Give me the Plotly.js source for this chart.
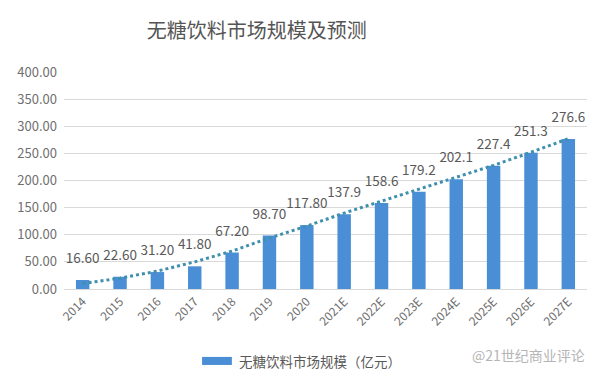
<!DOCTYPE html>
<html>
<head>
<meta charset="utf-8">
<script src="https://cdn.plot.ly/plotly-3.0.1.min.js"></script>
<style>html,body{margin:0;padding:0;background:#fff;}#chart{width:600px;height:383px;}</style>
</head>
<body>
<div id="chart"></div>
<script>
const categories = ["2014","2015","2016","2017","2018","2019","2020","2021E","2022E","2023E","2024E","2025E","2026E","2027E"];
const marketSize = [16.6,22.6,31.2,41.8,67.2,98.7,117.8,137.9,158.6,179.2,202.1,227.4,251.3,276.6];
const valueLabels = ["16.60","22.60","31.20","41.80","67.20","98.70","117.80","137.9","158.6","179.2","202.1","227.4","251.3","276.6"];
const trendValues = [10,20,33,50,70,94,116,140,162,184,205,228,252,277];
const yTicks = [0,50,100,150,200,250,300,350,400];
const seriesName = "无糖饮料市场规模（亿元）";
const chartTitle = "无糖饮料市场规模及预测";
const watermark = "@21世纪商业评论";

const font = "'Noto Sans CJK SC', 'Noto Sans', sans-serif";
const grey = "#595959";
const tickGrey = "#6f6f6f";

const traces = [
  {
    type: "bar",
    x: categories,
    y: marketSize,
    marker: {color: "#4a8fd5"},
    width: 0.36,
    name: seriesName,
    showlegend: false,
    hoverinfo: "x+y"
  },
  {
    type: "scatter",
    mode: "lines",
    x: categories,
    y: trendValues,
    line: {color: "#3f8fae", width: 3, dash: "dot"},
    showlegend: false,
    hoverinfo: "skip"
  },
  {
    type: "scatter",
    mode: "markers+text",
    x: categories,
    y: marketSize,
    text: valueLabels,
    textposition: "top center",
    textfont: {family: font, size: 13.5, color: grey},
    marker: {size: 20, opacity: 0},
    cliponaxis: false,
    showlegend: false,
    hoverinfo: "skip"
  }
];

const layout = {
  width: 600,
  height: 383,
  margin: {l: 64, r: 13, t: 72, b: 94},
  paper_bgcolor: "#fff",
  plot_bgcolor: "#fff",
  font: {family: font, color: grey},
  title: {
    text: chartTitle,
    font: {family: font, size: 20, color: "#555555"},
    x: 0.428, xref: "container", xanchor: "center",
    y: 0.92, yref: "container", yanchor: "middle"
  },
  xaxis: {
    type: "category",
    tickangle: -45,
    tickfont: {family: font, size: 12, color: tickGrey},
    showgrid: false,
    showline: true,
    linecolor: "#d9d9d9",
    linewidth: 1,
    ticks: "",
    range: [-0.5, 13.5]
  },
  yaxis: {
    range: [0, 400],
    tickvals: yTicks,
    tickformat: ".2f",
    tickfont: {family: font, size: 13, color: tickGrey},
    showgrid: true,
    gridcolor: "#d9d9d9",
    gridwidth: 1,
    zeroline: false,
    showline: false,
    ticks: "",
    ticklabelstandoff: 6
  },
  showlegend: false,
  shapes: [
    {type: "rect", xref: "paper", yref: "paper", x0: 0.264, x1: 0.321, y0: -0.350, y1: -0.313,
     fillcolor: "#4a8fd5", line: {width: 0}}
  ],
  annotations: [
    {xref: "paper", yref: "paper", x: 0.331, y: -0.331, xanchor: "left", yanchor: "middle",
     text: seriesName, showarrow: false, font: {family: font, size: 13.5, color: grey}},
    {xref: "paper", yref: "paper", x: 1.0, y: -0.305, xanchor: "right", yanchor: "middle",
     text: watermark, showarrow: false, font: {family: font, size: 14, color: "#b5b5b5"}}
  ]
};

Plotly.newPlot("chart", traces, layout, {displayModeBar: false, staticPlot: true});
</script>
</body>
</html>
